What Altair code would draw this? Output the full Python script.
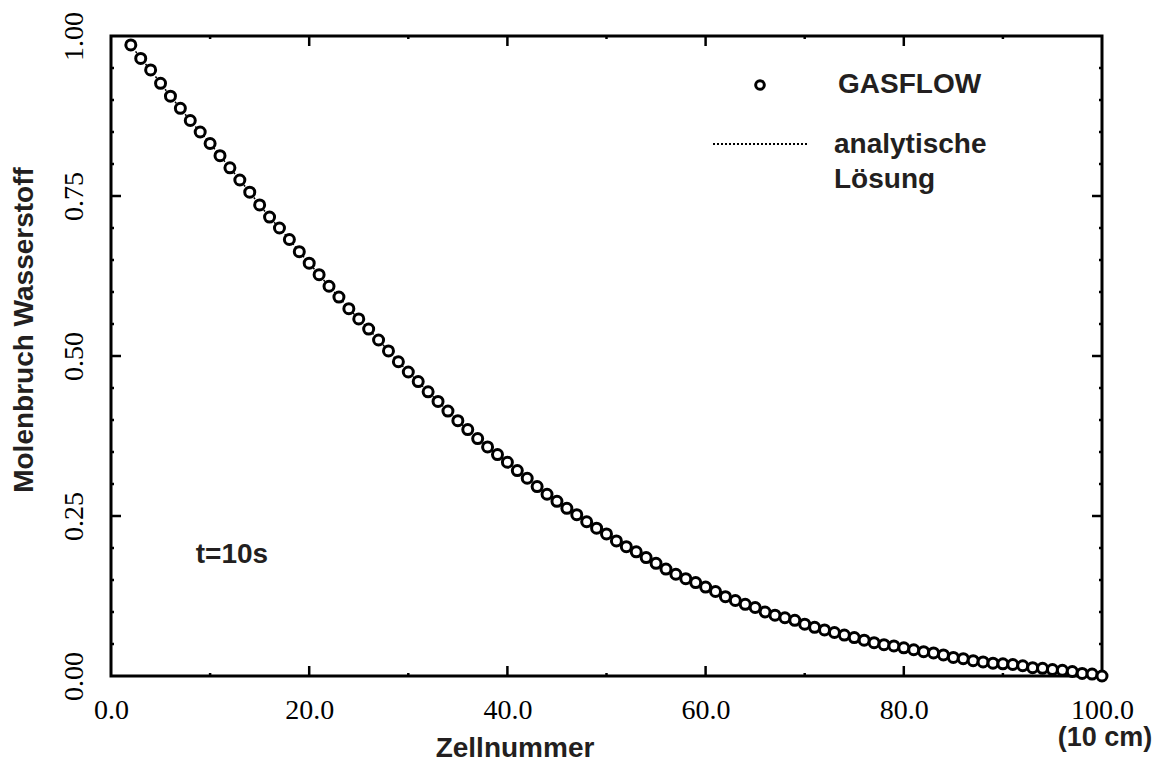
import altair as alt
import pandas as pd

# Cell numbers and GASFLOW mole fractions
cells = list(range(2, 101))
gasflow = [
    0.986, 0.965, 0.947, 0.926, 0.906, 0.887, 0.868, 0.850, 0.832, 0.813,
    0.794, 0.775, 0.756, 0.736, 0.717, 0.700, 0.682, 0.663, 0.645, 0.627,
    0.609, 0.592, 0.574, 0.558, 0.542, 0.525, 0.508, 0.491, 0.475, 0.460,
    0.444, 0.429, 0.414, 0.399, 0.385, 0.371, 0.358, 0.346, 0.334, 0.321,
    0.309, 0.296, 0.284, 0.273, 0.262, 0.252, 0.241, 0.231, 0.222, 0.211,
    0.202, 0.194, 0.185, 0.176, 0.167, 0.159, 0.152, 0.146, 0.139, 0.132,
    0.124, 0.118, 0.112, 0.107, 0.100, 0.095, 0.091, 0.087, 0.081, 0.076,
    0.072, 0.068, 0.064, 0.060, 0.056, 0.052, 0.049, 0.047, 0.044, 0.041,
    0.038, 0.036, 0.033, 0.029, 0.027, 0.024, 0.022, 0.020, 0.019, 0.018,
    0.016, 0.013, 0.012, 0.010, 0.009, 0.007, 0.004, 0.003, 0.000,
]
# analytic solution coincides with the GASFLOW points at this scale
analytic = list(gasflow)

x_tick_values = [0, 20, 40, 60, 80, 100]
y_tick_values = [0, 0.25, 0.5, 0.75, 1.0]
x_major = [20, 40, 60, 80]
x_minor = [10, 30, 50, 70, 90]
y_major = [0.25, 0.5, 0.75]
y_minor = [0.05, 0.1, 0.15, 0.2, 0.3, 0.35, 0.4, 0.45, 0.55, 0.6, 0.65, 0.7, 0.8, 0.85, 0.9, 0.95]

x_title = "Zellnummer"
x_unit = "(10 cm)"
y_title = "Molenbruch Wasserstoff"
time_label = "t=10s"
legend_labels = ["GASFLOW", "analytische", "Lösung"]

W, H = 991, 640
SANS = "Liberation Sans"
SERIF = "Liberation Serif"
TXT = "#231f20"

df = pd.DataFrame({"x": cells, "gasflow": gasflow, "analytic": analytic})

xscale = alt.Scale(domain=[0, 100], nice=False, zero=False)
yscale = alt.Scale(domain=[0, 1], nice=False, zero=False)

xaxis = alt.Axis(values=x_tick_values, format=".1f", labelFont=SERIF, labelFontSize=28,
                 labelColor="black", ticks=False, tickSize=0, domain=False, grid=False,
                 labelPadding=42, labelBaseline="alphabetic", labelFlush=False, title=None)
yaxis = alt.Axis(values=y_tick_values, format=".2f", labelFont=SERIF, labelFontSize=28,
                 labelColor="black", ticks=False, tickSize=0, domain=False, grid=False,
                 labelAngle=270, labelAlign="center", labelBaseline="alphabetic",
                 labelPadding=29, labelFlush=False, title=None)

line = alt.Chart(df).mark_line(color="black", strokeWidth=1.5, strokeDash=[2, 2]).encode(
    x=alt.X("x:Q", scale=xscale, axis=xaxis),
    y=alt.Y("analytic:Q", scale=yscale, axis=yaxis),
)

points = alt.Chart(df).mark_point(shape="circle", filled=True, fill="white", stroke="black",
                                  size=100, strokeWidth=3, opacity=1, fillOpacity=1).encode(
    x=alt.X("x:Q", scale=xscale),
    y=alt.Y("gasflow:Q", scale=yscale),
)

def xticks(vals, length, top):
    d = pd.DataFrame({"v": vals})
    if top:
        return alt.Chart(d).mark_rule(color="black", strokeWidth=2.5).encode(
            x=alt.X("v:Q", scale=xscale), y=alt.value(0), y2=alt.value(length))
    return alt.Chart(d).mark_rule(color="black", strokeWidth=2.5).encode(
        x=alt.X("v:Q", scale=xscale), y=alt.value(H), y2=alt.value(H - length))

def yticks(vals, length, right):
    d = pd.DataFrame({"v": vals})
    if right:
        return alt.Chart(d).mark_rule(color="black", strokeWidth=2.5).encode(
            y=alt.Y("v:Q", scale=yscale), x=alt.value(W), x2=alt.value(W - length))
    return alt.Chart(d).mark_rule(color="black", strokeWidth=2.5).encode(
        y=alt.Y("v:Q", scale=yscale), x=alt.value(0), x2=alt.value(length))

ticks = [
    xticks(x_major, 10, False), xticks(x_major, 10, True),
    xticks(x_minor, 3, False), xticks(x_minor, 3, True),
    yticks(y_major, 10, False), yticks(y_major, 10, True),
    yticks(y_minor, 3, False), yticks(y_minor, 3, True),
]

def label(text, px, py, size=28, align="center", angle=0, color=TXT, font=SANS, weight="bold"):
    return alt.Chart(pd.DataFrame({"t": [text]})).mark_text(
        font=font, fontSize=size, fontWeight=weight, color=color, align=align,
        baseline="middle", angle=angle,
    ).encode(text="t:N", x=alt.value(px), y=alt.value(py))

texts = [
    label(x_title, 404, 713),
    label(x_unit, 994, 702, size=27),
    label(y_title, -86, 294, angle=270),
    label(time_label, 121, 519),
    label(legend_labels[0], 727, 49, align="left"),
    label(legend_labels[1], 723, 109, align="left"),
    label(legend_labels[2], 723, 144, align="left"),
]

legend_pt = alt.Chart(pd.DataFrame({"k": [legend_labels[0]]})).mark_point(
    shape="circle", filled=True, fill="white", stroke="black", size=75, strokeWidth=3,
    opacity=1, fillOpacity=1
).encode(x=alt.value(649), y=alt.value(49))

legend_ln = alt.Chart(pd.DataFrame({"k": [legend_labels[1]]})).mark_rule(
    color="black", strokeWidth=2, strokeDash=[2, 2]
).encode(x=alt.value(602), x2=alt.value(697), y=alt.value(108))

chart = alt.layer(line, points, *ticks, *texts, legend_pt, legend_ln).properties(
    width=W, height=H,
    padding={"left": 111, "top": 36, "right": 68, "bottom": 93},
    autosize=alt.AutoSizeParams(type="none"),
    background="white",
).configure_view(stroke="black", strokeWidth=3)

chart.save("out.html", embed_options={"renderer": "svg", "actions": False})
